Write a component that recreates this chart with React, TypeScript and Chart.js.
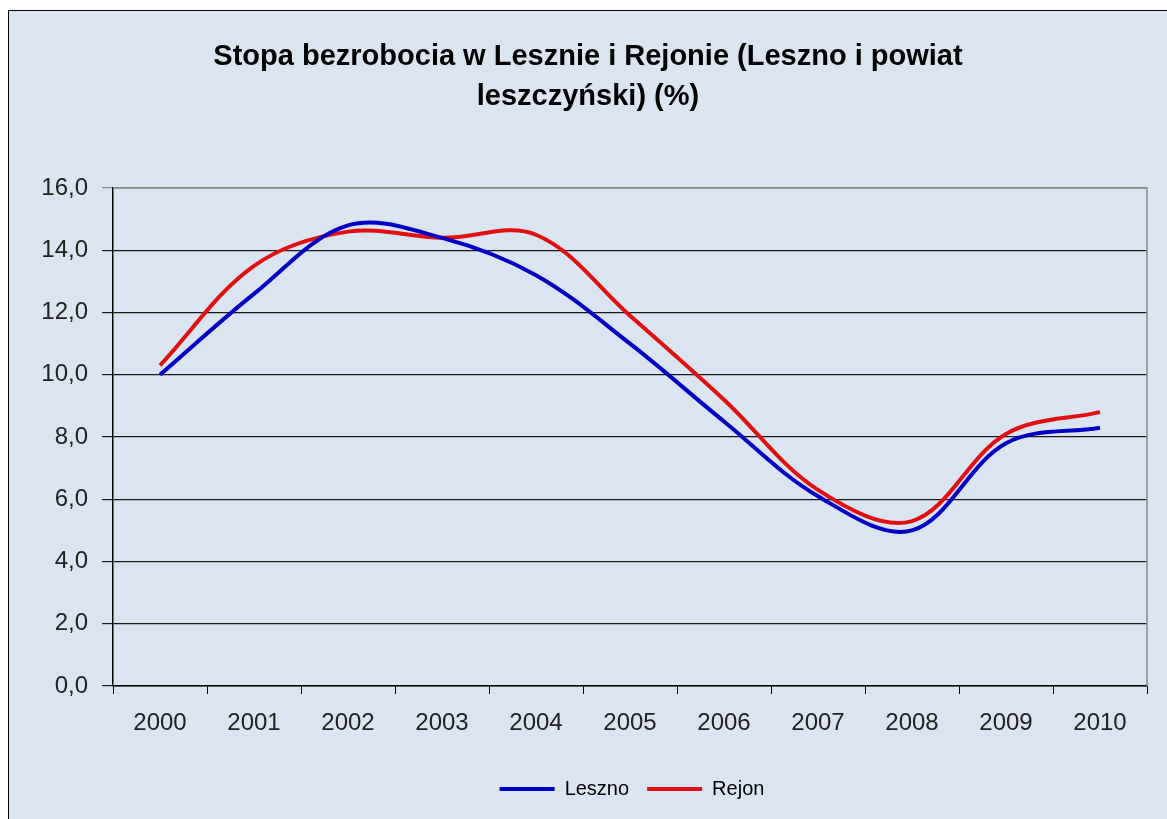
import React, { useEffect, useRef } from "react";
import { Chart, registerables } from "chart.js";

Chart.register(...registerables);

const years = ["2000", "2001", "2002", "2003", "2004", "2005", "2006", "2007", "2008", "2009", "2010"];
const leszno = [10.0, 12.6, 14.8, 14.4, 13.2, 11.0, 8.5, 6.1, 5.0, 7.8, 8.3];
const rejon = [10.3, 13.5, 14.6, 14.4, 14.5, 11.9, 9.2, 6.3, 5.3, 8.1, 8.8];
const titleLines = ["Stopa bezrobocia w Lesznie i Rejonie (Leszno i powiat", "leszczyński) (%)"];
const seriesNames = ["Leszno", "Rejon"];

const FONT = "'Liberation Sans', Arial, sans-serif";

export default function App() {
  const ref = useRef<HTMLCanvasElement | null>(null);
  useEffect(() => {
    if (!ref.current) return;
    const plotBorder = {
      id: "plotBorder",
      afterDatasetsDraw(chart: any) {
        const { ctx, chartArea } = chart;
        ctx.save();
        ctx.strokeStyle = "#8a8a8a";
        ctx.lineWidth = 1.5;
        ctx.beginPath();
        ctx.moveTo(chartArea.left, chartArea.top);
        ctx.lineTo(chartArea.right, chartArea.top);
        ctx.lineTo(chartArea.right, chartArea.bottom);
        ctx.stroke();
        ctx.restore();
      },
    };
    const boxShift = {
      id: "boxShift",
      afterLayout(chart: any) {
        const ca = chart.chartArea;
        const lg = chart.legend;
        if (lg) {
          const dx = (ca.left + ca.right) / 2 - (lg.left + lg.right) / 2 + 2;
          lg.left += dx;
          lg.right += dx;
          if (lg.adjustHitBoxes) lg.adjustHitBoxes();
        }
        const tt = chart.titleBlock;
        if (tt) {
          tt.left += 10;
          tt.right += 10;
        }
      },
    };
    const chart = new Chart(ref.current, {
      type: "line",
      data: {
        labels: years,
        datasets: [
          {
            label: seriesNames[0],
            data: leszno,
            borderColor: "#0000c4",
            backgroundColor: "#0000c4",
            borderWidth: 4,
            pointRadius: 0,
            tension: 0.35,
            fill: false,
          },
          {
            label: seriesNames[1],
            data: rejon,
            borderColor: "#e01010",
            backgroundColor: "#e01010",
            borderWidth: 4,
            pointRadius: 0,
            tension: 0.35,
            fill: false,
          },
        ],
      },
      plugins: [plotBorder, boxShift],
      options: {
        animation: false,
        responsive: false,
        layout: { padding: { top: 0, right: 20, bottom: 10, left: 0 } },
        plugins: {
          title: {
            display: true,
            text: titleLines,
            color: "#000",
            font: { family: FONT, size: 29, weight: "bold", lineHeight: 1.38 },
            padding: { top: 26, bottom: 71 },
          },
          legend: {
            position: "bottom",
            labels: {
              color: "#000",
              font: { family: FONT, size: 20 },
              boxWidth: 55,
              boxHeight: 4,
              padding: 18,
              generateLabels: (c: any) =>
                Chart.defaults.plugins.legend.labels.generateLabels(c).map((l: any) => ({ ...l, lineWidth: 0 })),
            },
          },
          tooltip: { enabled: false },
        },
        scales: {
          x: {
            type: "category",
            offset: true,
            grid: { offset: true, drawOnChartArea: false, tickLength: 8, color: "#000" },
            border: { color: "#000", width: 1.5 },
            ticks: { color: "#222", font: { family: FONT, size: 24 }, padding: 15, maxRotation: 0 },
            afterFit: (s: any) => {
              s.height = 75;
            },
          },
          y: {
            min: 0,
            max: 16,
            grid: {
              color: (c: any) => (c.tick && c.tick.value === 16 ? "#8a8a8a" : "#1a1a1a"),
              tickLength: 11,
              lineWidth: 1.2,
            },
            border: { color: "#000", width: 1.5 },
            ticks: {
              stepSize: 2,
              color: "#222",
              font: { family: FONT, size: 24 },
              padding: 14,
              callback: (v: any) => Number(v).toFixed(1).replace(".", ","),
            },
            afterFit: (s: any) => {
              s.width = 104;
            },
          },
        },
      },
    });
    return () => chart.destroy();
  }, []);
  return (
    <div
      style={{
        position: "fixed",
        left: 8,
        top: 10,
        width: 1159,
        height: 809,
        borderLeft: "1px solid #000",
        borderTop: "1px solid #000",
        background: "#DBE5F1",
      }}
    >
      <canvas ref={ref} width={1158} height={808} style={{ display: "block" }} />
    </div>
  );
}
